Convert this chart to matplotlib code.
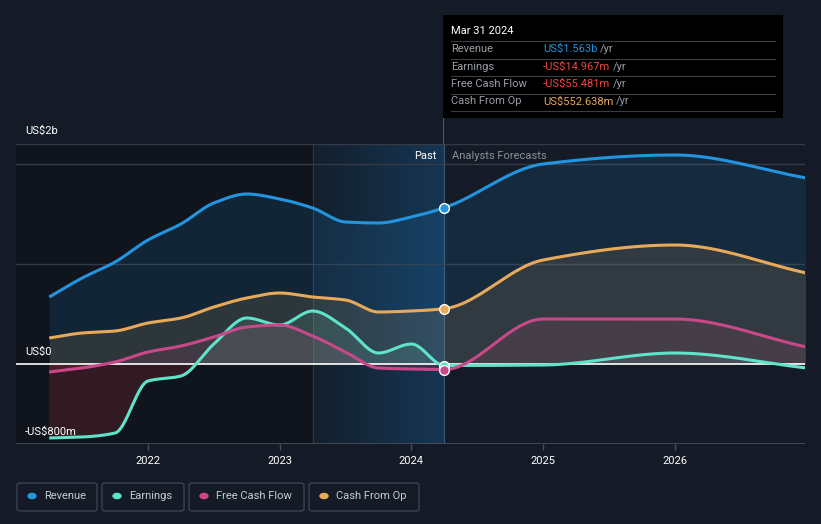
import numpy as np
import matplotlib
matplotlib.use("Agg")
import matplotlib.pyplot as plt
from matplotlib.patches import FancyBboxPatch, Circle
from matplotlib.lines import Line2D

plt.rcParams['font.family'] = ['Roboto', 'DejaVu Sans']

# decimal years, quarterly in the past and yearly in the forecast
years = [2021.25, 2021.5, 2021.75, 2022.0, 2022.25, 2022.5, 2022.75, 2023.0,
         2023.25, 2023.5, 2023.75, 2024.0, 2024.25,
         2025.0, 2026.0, 2027.0]

# values in US$ billions
revenue = [0.67, 0.86, 1.02, 1.24, 1.40, 1.61, 1.70, 1.65,
           1.56, 1.42, 1.41, 1.47, 1.563,
           2.00, 2.09, 1.86]
earnings = [-0.74, -0.73, -0.69, -0.17, -0.12, 0.20, 0.46, 0.39,
            0.53, 0.36, 0.11, 0.20, -0.015,
            -0.01, 0.11, -0.04]
free_cash_flow = [-0.08, -0.04, 0.02, 0.12, 0.18, 0.27, 0.37, 0.39,
                  0.28, 0.12, -0.04, -0.05, -0.055,
                  0.45, 0.45, 0.17]
cash_from_op = [0.26, 0.31, 0.33, 0.41, 0.46, 0.57, 0.66, 0.71,
                0.67, 0.64, 0.52, 0.53, 0.553,
                1.04, 1.19, 0.91]

series = [
    ("Revenue", revenue, "#2394df", "US$1.563b"),
    ("Earnings", earnings, "#5fe3c9", "-US$14.967m"),
    ("Free Cash Flow", free_cash_flow, "#c8488a", "-US$55.481m"),
    ("Cash From Op", cash_from_op, "#e9a95b", "US$552.638m"),
]
value_colors = ["#2394df", "#f0453f", "#f0453f", "#e9a95b"]

now = 2024.25
band_start = 2023.25
BG = "#151b26"


def smooth(x, y, n=600):
    """monotone cubic curve through the points (only for drawing)"""
    x = np.asarray(x, float)
    y = np.asarray(y, float)
    h = np.diff(x)
    d = np.diff(y) / h
    m = np.zeros_like(y)
    m[0], m[-1] = d[0], d[-1]
    for i in range(1, len(x) - 1):
        if d[i - 1] * d[i] > 0:
            w1 = 2 * h[i] + h[i - 1]
            w2 = h[i] + 2 * h[i - 1]
            m[i] = (w1 + w2) / (w1 / d[i - 1] + w2 / d[i])
    xs = np.linspace(x[0], x[-1], n)
    idx = np.clip(np.searchsorted(x, xs) - 1, 0, len(x) - 2)
    t = (xs - x[idx]) / h[idx]
    h00 = 2 * t**3 - 3 * t**2 + 1
    h10 = t**3 - 2 * t**2 + t
    h01 = -2 * t**3 + 3 * t**2
    h11 = t**3 - t**2
    ys = h00 * y[idx] + h10 * h[idx] * m[idx] + h01 * y[idx + 1] + h11 * h[idx] * m[idx + 1]
    return xs, ys


fig = plt.figure(figsize=(8.21, 5.24), dpi=100, facecolor=BG)
W, H = 821, 524
ax = fig.add_axes([16 / W, (H - 444) / H, 789 / W, 300 / H])
ax.set_facecolor(BG)

x0 = 2022 + (16 - 148) / 131.7
x1 = 2022 + (805 - 148) / 131.7
ax.set_xlim(x0, x1)
ax.set_ylim(-0.8, 2.2)

# past background and highlighted last year
ax.axvspan(x0, band_start, color="#0d1117", alpha=0.55, lw=0, zorder=0)
grad = np.linspace(0, 1, 256).reshape(1, -1)
ax.imshow(grad, extent=[band_start, now, -0.8, 2.2], aspect="auto",
          cmap=matplotlib.colors.LinearSegmentedColormap.from_list(
              "band", ["#13202e", "#173a5a"]), zorder=0.5, alpha=0.9)
ax.axvline(band_start, color="#2a3a4c", lw=0.8, zorder=1)
ax.axvline(now, color="#3b5a78", lw=0.8, zorder=1)

for yv in [2.2, 2.0, 1.0]:
    ax.axhline(yv, color="#343a46", lw=1, zorder=1)
ax.axhline(-0.8, color="#4a505c", lw=1.2, zorder=1)

# fills
for name, vals, col, _ in series:
    xs, ys = smooth(years, vals)
    ax.fill_between(xs, ys, 0, where=ys >= 0, color=col, alpha=0.13, lw=0, zorder=2)
    ax.fill_between(xs, ys, 0, where=ys < 0, color="#e0383c", alpha=0.16, lw=0, zorder=2)

ax.axhline(0, color="white", lw=1.2, zorder=3)

for name, vals, col, _ in series:
    xs, ys = smooth(years, vals)
    ax.plot(xs, ys, color=col, lw=2.2, zorder=4, solid_capstyle="butt")
    ax.plot([now], [vals[years.index(now)]], "o", ms=7, color=col,
            mec="white", mew=1, zorder=5)

for s in ax.spines.values():
    s.set_visible(False)
ax.set_yticks([])
ax.set_xticks([2022, 2023, 2024, 2025, 2026])
ax.set_xticklabels(["2022", "2023", "2024", "2025", "2026"])
ax.tick_params(axis="x", colors="#4a505c", length=4, width=1, labelcolor="white",
               labelsize=8, pad=5)

# y labels
for txt, y in [("US$2b", 131), ("US$0", 352), ("-US$800m", 432)]:
    fig.text(25 / W, 1 - y / H, txt, color="white", fontsize=8, va="center", ha="left")

ax.text(now - 0.06, 2.08, "Past", color="white", fontsize=8, ha="right", va="center", zorder=6)
ax.text(now + 0.06, 2.08, "Analysts Forecasts", color="#8a8f99", fontsize=8,
        ha="left", va="center", zorder=6)

# tooltip
tip = fig.add_axes([443 / W, (H - 118) / H, 340 / W, 103 / H])
tip.set_facecolor("black")
tip.set_xlim(443, 783)
tip.set_ylim(118, 15)
tip.set_xticks([])
tip.set_yticks([])
for s in tip.spines.values():
    s.set_visible(False)
tip.text(451, 31, "Mar 31 2024", color="white", fontsize=8, va="center")
for yl in [41, 59, 76, 94, 111]:
    tip.plot([451, 775], [yl, yl], color="#3a3d44", lw=0.8)
fig.add_artist(Line2D([443 / W, 443 / W], [1 - 118 / H, 1 - 144 / H],
                      color="#3b5a78", lw=0.8))

renderer = fig.canvas.get_renderer()
for i, (name, vals, col, val_txt) in enumerate(series):
    yrow = 49 + i * 17.5
    tip.text(451, yrow, name, color="#9a9ea6", fontsize=8, va="center")
    t = tip.text(543, yrow, val_txt, color=value_colors[i], fontsize=8, va="center")
    bb = t.get_window_extent(renderer=renderer)
    xe = tip.transData.inverted().transform((bb.x1, bb.y0))[0]
    tip.text(xe + 3, yrow, "/yr", color="#9a9ea6", fontsize=8, va="center")

# legend boxes
boxes = [(17, 97), (102, 184), (189, 304), (309, 419)]
for (bx0, bx1), (name, vals, col, _) in zip(boxes, series):
    fig.add_artist(FancyBboxPatch((bx0 / W, 1 - 511 / H), (bx1 - bx0) / W, 28 / H,
                                  boxstyle="round,pad=0,rounding_size=0.004",
                                  fc="none", ec="#3c424e", lw=1,
                                  transform=fig.transFigure))
    fig.add_artist(Circle(((bx0 + 15) / W, 1 - 496 / H), 4 / W, color=col,
                          transform=fig.transFigure))
    fig.text((bx0 + 27) / W, 1 - 496 / H, name, color="#c8ccd2", fontsize=8, va="center")

fig.savefig("out.png", dpi=100, facecolor=BG)
